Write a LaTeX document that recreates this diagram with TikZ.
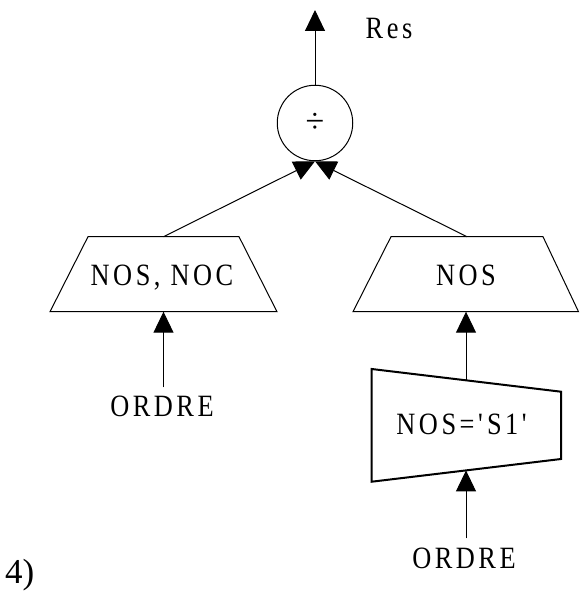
\documentclass[tikz,border=0pt]{standalone}
\usepackage{fontspec}
\setmainfont{Liberation Serif}
% narrow serif used for the relation labels
\newfontfamily\labfont[FakeStretch=0.85]{Liberation Serif}
% tracking between letters of a label
\newcommand\tk{\kern3.5pt}
\usetikzlibrary{arrows.meta}
\begin{document}
\begin{tikzpicture}[x=1pt,y=-1pt,
  lbl/.style={font=\labfont\fontsize{31}{31}\selectfont, inner sep=0pt, anchor=base},
  flow/.style={line width=1pt, -{Triangle[length=21pt,width=20pt]}},
  box/.style={draw, line width=1pt, line join=miter},
  sel/.style={draw, line width=2pt, line join=miter},
]
\useasboundingbox (0,0) rectangle (579,594);

% division operator and result
\node[circle, draw, line width=1pt, minimum size=75.5pt, inner sep=0pt] (div) at (315,123)
  {\fontsize{34}{34}\selectfont ÷};
\coordinate (out) at (315,10);
\draw[flow] (div) -- (out);
\node[lbl] (res) at (389,38) {R\tk e\tk s};

% left projection
\draw[box] (88,236.7) -- (239,236.7) -- (277,311.7) -- (50,311.7) -- cycle;
\coordinate (ltop) at (163.5,236.7);
\coordinate (lbot) at (163.5,311.7);
\node[lbl] (projL) at (162,285) {N\tk O\tk S\tk,\tk{} N\tk O\tk C};
\node[lbl] (ordreL) at (162,416) {O\tk R\tk D\tk R\tk E};
\draw[flow] (ordreL.north) ++(1.5,-8) -- (lbot);
\draw[flow] (ltop) -- (div.south);

% right projection
\draw[box] (391,236.7) -- (543,236.7) -- (578.5,311.7) -- (353,311.7) -- cycle;
\coordinate (rtop) at (467,236.7);
\coordinate (rbot) at (466,311.7);
\node[lbl] (projR) at (466,285) {N\tk O\tk S};
\draw[flow] (rtop) -- (div.south);

% selection
\draw[sel] (371.7,369) -- (561,391.7) -- (561,459) -- (371.7,481.7) -- cycle;
\coordinate (stop) at (466,380.4);
\coordinate (sbot) at (466,470.4);
\node[lbl] (selR) at (462,434) {N\tk O\tk S\tk =\tk\textquotesingle\tk S\tk 1\tk\textquotesingle};
\draw[flow] (stop) -- (rbot);
\node[lbl] (ordreR) at (464,568) {O\tk R\tk D\tk R\tk E};
\draw[flow] (ordreR.north) ++(2,-9) -- (sbot);

% item number
\node[font=\fontsize{35}{35}\selectfont, inner sep=0pt, anchor=base west] (num) at (5,583) {4)};
\end{tikzpicture}
\end{document}
